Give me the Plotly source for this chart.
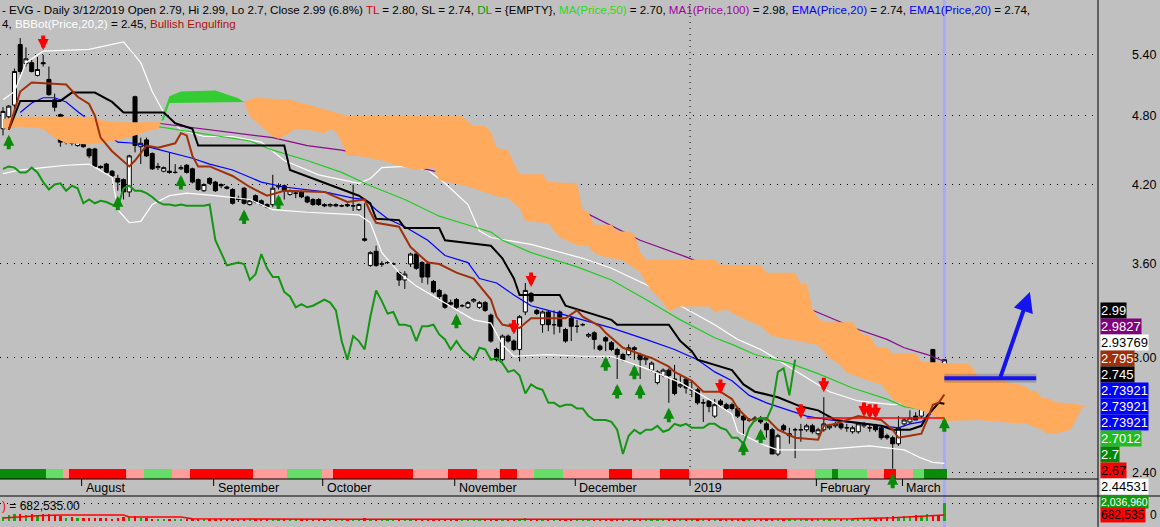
import math
import plotly.graph_objects as go

# ---------------- data ----------------
bars = list(range(165))
opens = [4.68,4.79,4.90,5.51,5.31,5.32,5.19,5.32,5.15,4.95,
 4.81,4.56,4.68,4.53,4.55,4.50,4.50,4.35,4.37,4.31,
 4.25,4.24,4.14,4.98,4.52,4.58,4.46,4.34,4.31,4.31,
 4.30,4.33,4.36,4.33,4.24,4.15,4.25,4.22,4.20,4.18,
 4.16,4.09,4.17,4.04,4.11,4.07,4.04,4.04,4.18,4.19,
 4.12,4.13,4.14,4.10,4.08,4.08,4.04,4.03,4.04,4.03,
 4.04,4.03,4.00,3.78,3.59,3.69,3.60,3.61,3.60,3.54,
 3.49,3.60,3.67,3.61,3.60,3.48,3.42,3.39,3.34,3.36,
 3.32,3.31,3.35,3.31,3.34,3.26,3.05,2.99,3.13,3.10,
 3.05,3.28,3.40,3.29,3.20,3.28,3.20,3.28,3.17,3.24,
 3.19,3.20,3.13,3.15,3.07,3.12,3.09,3.05,3.02,3.02,
 3.06,3.02,2.99,2.93,2.86,2.90,2.93,2.88,2.84,2.88,
 2.82,2.82,2.75,2.76,2.68,2.76,2.74,2.74,2.72,2.68,
 2.66,2.67,2.67,2.64,2.61,2.49,2.63,2.58,2.61,2.61,
 2.61,2.63,2.59,2.61,2.62,2.63,2.64,2.62,2.60,2.60,
 2.63,2.62,2.63,2.62,2.58,2.57,2.54,2.64,2.65,2.68,
 2.68,2.80,3.05,2.90,2.79]
highs = [4.88,4.90,5.26,5.58,5.48,5.35,5.38,5.40,5.28,5.01,
 4.82,4.78,4.78,4.58,4.56,4.51,4.51,4.36,4.38,4.32,
 4.28,4.25,4.45,4.99,4.60,4.60,4.47,4.38,4.35,4.47,
 4.37,4.36,4.37,4.34,4.25,4.21,4.26,4.23,4.21,4.19,
 4.17,4.11,4.18,4.08,4.12,4.08,4.05,4.28,4.21,4.20,
 4.16,4.14,4.15,4.11,4.09,4.09,4.05,4.05,4.05,4.04,
 4.05,4.20,4.05,4.05,3.69,3.73,3.62,3.62,3.61,3.55,
 3.55,3.68,3.68,3.62,3.62,3.49,3.43,3.40,3.36,3.37,
 3.33,3.35,3.37,3.35,3.35,3.27,3.06,3.14,3.14,3.11,
 3.26,3.47,3.41,3.30,3.29,3.29,3.29,3.29,3.18,3.25,
 3.23,3.21,3.15,3.16,3.08,3.13,3.10,3.06,3.03,3.08,
 3.07,3.03,3.01,2.98,2.93,2.94,2.94,2.96,2.90,2.89,
 2.87,2.83,2.77,2.77,2.77,2.77,2.75,2.75,2.73,2.69,
 2.67,2.68,2.68,2.65,2.62,2.59,2.64,2.62,2.62,2.64,
 2.64,2.64,2.62,2.78,2.64,2.65,2.65,2.64,2.63,2.65,
 2.65,2.64,2.64,2.63,2.59,2.58,2.68,2.67,2.71,2.70,
 2.74,2.92,3.05,2.91,2.99]
lows = [4.62,4.67,4.85,5.20,5.28,5.22,5.18,5.28,4.99,4.84,
 4.52,4.54,4.53,4.52,4.51,4.42,4.34,4.33,4.29,4.26,
 4.15,4.08,4.10,4.47,4.37,4.43,4.32,4.32,4.30,4.29,
 4.29,4.32,4.29,4.21,4.15,4.14,4.20,4.14,4.17,4.16,
 4.04,4.06,4.04,4.03,4.05,4.03,4.01,4.02,4.16,4.08,
 4.11,4.09,4.09,4.05,4.03,4.03,4.02,4.02,4.02,4.02,
 4.02,3.99,3.99,3.76,3.58,3.58,3.58,3.60,3.59,3.45,
 3.43,3.58,3.56,3.47,3.46,3.40,3.36,3.30,3.31,3.30,
 3.31,3.30,3.34,3.30,3.28,3.09,2.98,2.98,3.09,3.04,
 2.98,3.26,3.34,3.26,3.15,3.16,3.14,3.15,3.09,3.10,
 3.15,3.19,3.12,3.05,3.04,3.04,3.04,2.88,2.98,3.01,
 2.99,2.88,2.96,2.92,2.85,2.89,2.75,2.79,2.83,2.80,
 2.78,2.74,2.65,2.70,2.67,2.73,2.71,2.71,2.67,2.58,
 2.65,2.65,2.64,2.57,2.49,2.48,2.60,2.54,2.47,2.55,
 2.60,2.59,2.58,2.60,2.61,2.62,2.61,2.60,2.59,2.59,
 2.62,2.60,2.60,2.56,2.56,2.42,2.53,2.63,2.64,2.66,
 2.67,2.78,2.86,2.75,2.70]
closes = [4.84,4.89,5.23,5.23,5.36,5.23,5.25,5.31,5.00,4.88,
 4.56,4.68,4.55,4.57,4.52,4.44,4.35,4.34,4.30,4.27,
 4.22,4.14,4.44,4.53,4.55,4.44,4.33,4.35,4.34,4.30,
 4.30,4.34,4.30,4.22,4.16,4.20,4.21,4.15,4.19,4.17,
 4.05,4.08,4.05,4.07,4.06,4.04,4.02,4.17,4.19,4.15,
 4.15,4.13,4.10,4.06,4.04,4.04,4.03,4.04,4.03,4.03,
 4.03,4.03,4.04,3.77,3.68,3.59,3.60,3.61,3.60,3.49,
 3.53,3.67,3.57,3.51,3.51,3.41,3.38,3.31,3.33,3.31,
 3.32,3.34,3.36,3.34,3.29,3.10,2.99,3.13,3.10,3.05,
 3.25,3.42,3.35,3.27,3.28,3.20,3.20,3.19,3.10,3.19,
 3.19,3.20,3.14,3.11,3.05,3.10,3.05,3.02,2.99,3.06,
 3.05,2.99,3.00,2.97,2.92,2.93,2.90,2.80,2.85,2.83,
 2.82,2.75,2.75,2.73,2.74,2.74,2.72,2.72,2.68,2.66,
 2.66,2.66,2.65,2.61,2.49,2.58,2.61,2.59,2.61,2.61,
 2.63,2.60,2.61,2.64,2.63,2.64,2.62,2.62,2.62,2.64,
 2.64,2.62,2.61,2.57,2.57,2.54,2.62,2.66,2.67,2.66,
 2.73,2.92,2.94,2.79,2.99]
volume_k = [420,650,780,820,700,760,690,800,740,650,
 600,380,420,350,300,330,380,290,310,260,
 340,420,450,520,330,300,280,250,230,270,
 240,210,260,230,200,180,210,190,170,160,
 200,150,180,150,170,140,130,260,180,150,
 160,140,150,130,140,150,120,110,130,120,
 140,230,150,320,280,220,160,140,150,210,
 180,230,200,170,190,160,150,170,140,150,
 130,140,120,150,160,260,240,210,170,180,
 230,300,220,160,180,150,140,170,150,160,
 140,130,150,140,120,160,140,190,150,130,
 140,170,120,130,160,140,150,180,140,130,
 150,170,160,140,130,120,150,140,130,170,
 160,140,150,190,240,210,170,160,220,180,
 230,210,200,250,240,260,230,280,250,260,
 280,320,300,340,420,560,480,600,520,680,
 560,820,700,640,2036.96]
vol_ma_bars = [0, 6, 10, 21, 22, 31, 33, 45, 60, 100, 140, 148, 155, 160, 164]
vol_ma_k = [340, 600, 680, 680, 450, 450, 250, 220, 200, 190, 210, 260, 380, 520, 682.535]

# Ichimoku lines (TL = tenkan, SL = kijun), read at sample bars
tl_bars = [1,3,5,11,13,15,16,17,19,22,23,25,27,30,31,32,33,34,36,40,43,46,49,56,60,63,64,65,69,71,74,76,79,82,85,86,87,90,91,92,98,100,101,104,105,108,112,113,116,117,120,122,125,127,128,130,133,135,138,142,143,145,149,153,155,156,158,160,161,162,163,164]
tl_vals = [4.67,5.03,5.12,5.10,4.98,4.91,4.80,4.60,4.48,4.35,4.40,4.53,4.51,4.55,4.64,4.62,4.44,4.35,4.35,4.27,4.18,4.11,4.15,4.14,4.06,4.08,3.98,3.90,3.87,3.72,3.61,3.60,3.54,3.50,3.36,3.25,3.20,3.18,3.21,3.24,3.24,3.29,3.25,3.19,3.15,3.06,3.01,3.00,2.95,2.92,2.87,2.81,2.81,2.77,2.72,2.66,2.67,2.61,2.57,2.56,2.63,2.64,2.68,2.66,2.61,2.57,2.58,2.59,2.66,2.74,2.75,2.795]
sl_bars = [1,3,10,12,16,19,21,28,30,33,34,49,50,55,62,64,65,69,70,76,77,85,87,89,90,97,98,106,107,116,118,120,121,127,129,131,135,139,142,145,148,153,155,158,160,161,163,164]
sl_vals = [4.67,4.94,4.94,5.02,5.02,4.93,4.83,4.83,4.73,4.68,4.53,4.53,4.32,4.23,4.11,4.05,3.93,3.92,3.86,3.86,3.77,3.73,3.64,3.50,3.39,3.39,3.32,3.23,3.20,3.20,3.10,3.04,2.99,2.93,2.85,2.81,2.78,2.73,2.71,2.66,2.65,2.63,2.61,2.61,2.63,2.68,2.75,2.745]
chikou_shift = 26

ema_bars = [3,5,7,9,11,13,20,23,26,30,33,36,40,43,45,49,56,61,63,65,67,70,74,77,81,83,86,89,92,95,101,106,112,117,121,124,127,130,133,137,140,144,147,151,156,158,160,162,164]
ema_vals = [4.83,4.92,4.97,4.97,4.93,4.84,4.56,4.55,4.51,4.46,4.42,4.37,4.32,4.26,4.22,4.18,4.14,4.09,4.08,4.00,3.93,3.87,3.77,3.66,3.61,3.50,3.47,3.39,3.32,3.29,3.23,3.18,3.11,3.05,2.99,2.92,2.87,2.79,2.75,2.71,2.68,2.66,2.65,2.64,2.62,2.64,2.65,2.70,2.74]
ma50_bars = [27,43,47,53,59,64,70,76,82,85,87,92,100,106,112,118,124,127,131,137,142,148,154,157,161,164]
ma50_vals = [4.70,4.57,4.49,4.40,4.30,4.19,4.08,3.95,3.87,3.83,3.77,3.68,3.58,3.49,3.36,3.23,3.12,3.08,3.02,2.97,2.91,2.83,2.77,2.73,2.71,2.70]
ma100_bars = [27,43,47,53,59,78,94,100,105,111,119,149,154,157,161,164]
ma100_vals = [4.73,4.63,4.60,4.53,4.49,4.28,4.10,4.01,3.90,3.77,3.65,3.17,3.11,3.06,3.02,2.98]
bbtop_bars = [0,2,4,7,15,21,24,26,28,31,35,40,43,45,49,55,62,64,66,70,74,77,81,83,85,92,101,106,112,118,124,128,132,139,144,149,155,158,161,162,164]
bbtop_vals = [4.95,5.03,5.32,5.44,5.46,5.54,5.32,5.03,4.83,4.67,4.61,4.61,4.58,4.56,4.40,4.28,4.21,4.25,4.34,4.35,4.32,4.21,4.04,3.84,3.79,3.74,3.64,3.57,3.46,3.32,3.20,3.11,3.05,2.91,2.81,2.76,2.74,2.75,2.79,2.87,2.94]
bbbot_bars = [0,3,7,11,15,19,20,22,24,26,29,32,37,43,47,53,62,64,66,69,72,76,82,85,87,89,95,101,106,112,118,124,127,128,132,135,142,151,157,160,162,164]
bbbot_vals = [4.29,4.32,4.34,4.36,4.37,4.26,4.00,3.90,3.91,4.04,4.11,4.13,4.11,4.08,4.00,3.98,3.96,3.90,3.68,3.54,3.45,3.36,3.23,3.21,3.08,3.01,3.02,3.01,3.01,2.94,2.86,2.75,2.69,2.60,2.54,2.51,2.51,2.53,2.51,2.47,2.45,2.445]

# Ichimoku cloud edges (already shifted forward 26 bars)
cloud1_bars = [0,3,7,9,11,15,18,20,23,26,27,27.6]
cloud1_top = [4.77,4.79,4.79,4.79,4.79,4.79,4.75,4.74,4.74,4.74,4.74,4.75]
cloud1_bot = [4.68,4.70,4.68,4.60,4.55,4.54,4.56,4.58,4.62,4.67,4.67,4.75]
cloudg_top_bars = [27.6,28,29,31,37,39,41,42]
cloudg_top = [4.75,4.83,4.985,5.03,5.04,5.00,4.965,4.93]
cloudg_bot_bars = [27.6,28,29,42]
cloudg_bot = [4.75,4.76,4.92,4.93]
cloud2_top_bars = [42,44,50,52,55,60,77,80,81,82,84,85,86,88,89,90,94,95,100,101,102,103,106,107,109,110,111,112,124,125,132,133,138,139,140,141,142,143,148,149,150,151,152,153,154,155,159,160,161,163,164,168,169,170,174,175,177,178,179,180,181,182,183,184,187,188,189]
cloud2_top = [4.93,4.97,4.95,4.92,4.87,4.80,4.795,4.795,4.745,4.705,4.705,4.645,4.51,4.49,4.375,4.285,4.285,4.22,4.21,4.00,3.98,3.885,3.885,3.835,3.835,3.81,3.685,3.63,3.63,3.595,3.59,3.54,3.54,3.465,3.465,3.305,3.24,3.215,3.215,3.165,3.135,3.135,3.07,3.06,3.06,3.025,3.025,2.98,2.975,2.975,2.97,2.97,2.94,2.885,2.88,2.86,2.85,2.84,2.815,2.815,2.775,2.775,2.76,2.75,2.745,2.735,2.735]
cloud2_bot_bars = [42,43,44,45,47,48,49,51,53,56,57,58,59,60,62,66,69,72,75,76,81,86,88,90,91,95,96,97,100,102,103,105,108,111,112,113,115,116,118,123,124,126,128,130,132,134,137,140,142,143,144,146,147,150,153,155,157,160,162,164,170,176,178,181,182,184,186,188,189]
cloud2_bot = [4.93,4.795,4.75,4.705,4.61,4.59,4.615,4.68,4.67,4.64,4.675,4.655,4.56,4.44,4.44,4.40,4.355,4.32,4.34,4.235,4.185,4.105,4.09,4.015,3.915,3.895,3.84,3.79,3.735,3.73,3.675,3.65,3.625,3.545,3.47,3.42,3.34,3.285,3.315,3.315,3.28,3.295,3.255,3.22,3.19,3.13,3.11,3.09,3.075,3.035,3.00,2.955,2.915,2.88,2.85,2.77,2.735,2.71,2.685,2.655,2.66,2.645,2.645,2.61,2.59,2.595,2.61,2.725,2.735]

ribbon_runs = [("DG",8),("LG",3),("PK",1),("RD",10),("PK",3),("LG",5),("PK",3),("RD",11),("PK",6),("LG",6),
 ("PK",2),("RD",14),("PK",6),("RD",5),("PK",4),("RD",3),("PK",3),("LG",5),("PK",8),("RD",4),("PK",5),("RD",5),
 ("PK",6),("RD",11),("PK",5),("LG",3),("DG",1),("LG",5),("PK",3),("RD",2),("PK",3),("LG",2),("DG",4)]

month_labels = ["August", "September", "October", "November", "December", "2019", "February", "March"]
month_start_bars = [14, 37, 56, 79, 100, 120, 142, 157]

up_arrow_bars = [1, 20, 31, 42, 48, 79, 105, 107, 110, 111, 116, 129, 132, 155, 164]
down_arrow_bars = [7, 89, 92, 125, 139, 143, 150, 151, 152]

level_line_bars = [140, 164]
level_line_value = 2.67
trend_line_bars = [164, 180]
trend_line_value = 2.884
trend_arrow_tail = (173.7, 2.884)
trend_arrow_head = (178.9, 3.41)

price_ticks = [2.40, 3.00, 3.60, 4.20, 4.80, 5.40]
price_tick_text = ["2.40", "3.00", "3.60", "4.20", "4.80", "5.40"]
right_labels = [("2.99", "#000000", "#ffffff"), ("2.9827", "#800080", "#ffffff"),
                ("2.93769", "#ffffff", "#000000"), ("2.795", "#a0300a", "#ffffff"),
                ("2.745", "#000000", "#ffffff"), ("2.73921", "#0000ff", "#ffffff"),
                ("2.73921", "#0000ff", "#ffffff"), ("2.73921", "#0000ff", "#ffffff"),
                ("2.7012", "#22bb22", "#ffffff"), ("2.7", "#008800", "#ffffff"),
                ("2.67", "#ff0000", "#000000")]
bbbot_label = ("2.44531", "#ffffff", "#000000")
vol_top_label = ("2,036,960", "#119911", "#ffffff")
vol_ma_label = ("682,535", "#ff0000", "#000000")

# ---------------- layout constants ----------------
W, H = 1160, 527
PLOT_RIGHT = 1098
X0_PX, BAR_PX = 3.0, 5.74
PRICE_BOTTOM_PX = 479
RIBBON_TOP_PX = 469
DATE_BOTTOM_PX = 496
VOL_TOP_PX = 497
P_TOP, P_BOT = 6.0079, 2.3722
FONT = "Liberation Sans, Arial, sans-serif"


def py(px):
    return 1 - px / H


def lg(v):
    return math.log10(v)


xr = [-X0_PX / BAR_PX, (PLOT_RIGHT - X0_PX) / BAR_PX]
fig = go.Figure()


def line(xs, ys, color, width, yaxis="y"):
    fig.add_trace(go.Scatter(x=xs, y=ys, mode="lines", line=dict(color=color, width=width),
                             yaxis=yaxis, hoverinfo="skip"))


# moving averages and bands (behind the cloud)
line(bbtop_bars, bbtop_vals, "#ffffff", 1.2)
line(bbbot_bars, bbbot_vals, "#ffffff", 1.2)
line(ma100_bars, ma100_vals, "#8a0a8a", 1.2)
line(ma50_bars, ma50_vals, "#22cc22", 1.2)
line(ema_bars, ema_vals, "#0000ff", 1.2)


def poly(xs_top, top, xs_bot, bot, color):
    fig.add_trace(go.Scatter(x=list(xs_top) + list(xs_bot)[::-1], y=list(top) + list(bot)[::-1],
                             mode="lines", fill="toself", fillcolor=color, line=dict(width=0, color=color),
                             hoverinfo="skip"))


poly(cloud1_bars, cloud1_top, cloud1_bars, cloud1_bot, "#ffaa5c")
poly(cloudg_top_bars, cloudg_top, cloudg_bot_bars, cloudg_bot, "#33cc33")
poly(cloud2_top_bars, cloud2_top, cloud2_bot_bars, cloud2_bot, "#ffaa5c")

# candles
fig.add_trace(go.Candlestick(x=bars, open=opens, high=highs, low=lows, close=closes,
                             increasing=dict(line=dict(color="#000000", width=1), fillcolor="#ffffff"),
                             decreasing=dict(line=dict(color="#000000", width=1), fillcolor="#000000"),
                             whiskerwidth=0, hoverinfo="skip"))

# Ichimoku lines
line(sl_bars, sl_vals, "#000000", 2)
line(tl_bars, tl_vals, "#a0300a", 2)
line(bars[:len(bars) - chikou_shift], closes[chikou_shift:], "#149614", 2)
line(level_line_bars, [level_line_value] * 2, "#ff0000", 1.5)

# hand-drawn trend line with soft shadow
fig.add_trace(go.Scatter(x=trend_line_bars, y=[trend_line_value] * 2, mode="lines",
                         line=dict(color="rgba(60,60,60,0.25)", width=9), hoverinfo="skip"))
line(trend_line_bars, [trend_line_value] * 2, "#1414f0", 4)

# ribbon
ribbon_colors = {"DG": "#0a8c0a", "LG": "#66dd66", "PK": "#ff9c9c", "RD": "#ff0000"}
rib_cols = []
for code, n in ribbon_runs:
    rib_cols += [ribbon_colors[code]] * n
fig.add_trace(go.Bar(x=bars, y=[1] * len(bars), marker=dict(color=rib_cols, line=dict(width=0)),
                     width=1.0, yaxis="y3", hoverinfo="skip"))

# volume
vol_cols = ["#11aa11" if c >= o else "#ff0000" for o, c in zip(opens, closes)]
fig.add_trace(go.Bar(x=bars, y=[v * 1000 for v in volume_k], marker=dict(color=vol_cols, line=dict(width=0)),
                     width=0.4, yaxis="y4", hoverinfo="skip"))
fig.add_trace(go.Scatter(x=vol_ma_bars, y=[v * 1000 for v in vol_ma_k], mode="lines",
                         line=dict(color="#ff0000", width=1.5), yaxis="y4", hoverinfo="skip"))

annotations = []
shapes = []

# signal arrows
for b in up_arrow_bars:
    annotations.append(dict(x=b, y=lg(lows[b]), xref="x", yref="y", text="", showarrow=True,
                            ax=0, ay=21, arrowhead=2, arrowsize=0.55, arrowwidth=4,
                            arrowcolor="#0a8a0a", standoff=5))
for b in down_arrow_bars:
    annotations.append(dict(x=b, y=lg(highs[b]), xref="x", yref="y", text="", showarrow=True,
                            ax=0, ay=-21, arrowhead=2, arrowsize=0.55, arrowwidth=4,
                            arrowcolor="#ff0000", standoff=5))
# trend arrow
annotations.append(dict(x=trend_arrow_head[0], y=lg(trend_arrow_head[1]), xref="x", yref="y",
                        ax=trend_arrow_tail[0], ay=lg(trend_arrow_tail[1]), axref="x", ayref="y",
                        text="", showarrow=True, arrowhead=2, arrowsize=1, arrowwidth=4,
                        arrowcolor="#1414f0", standoff=0))

# titles
line1 = ("- EVG - Daily 3/12/2019 Open 2.79, Hi 2.99, Lo 2.7, Close 2.99 (6.8%) "
         "<span style='color:#e00000'>TL</span> = 2.80, SL = 2.74, "
         "<span style='color:#00a000'>DL</span> = {EMPTY}, "
         "<span style='color:#22dd22'>MA(Price,50)</span> = 2.70, "
         "<span style='color:#a000a0'>MA1(Price,100)</span> = 2.98, "
         "<span style='color:#0000ff'>EMA(Price,20)</span> = 2.74, "
         "<span style='color:#0000ff'>EMA1(Price,20)</span> = 2.74,")
line2 = ("4, <span style='color:#ffffff'>BBBot(Price,20,2)</span> = 2.45, "
         "<span style='color:#b01010'>Bullish Engulfing</span>")
for txt, ypx in [(line1, 9), (line2, 24)]:
    annotations.append(dict(x=0, y=py(ypx), xref="paper", yref="paper", text=txt, showarrow=False,
                            xanchor="left", yanchor="middle", font=dict(family=FONT, size=11.6, color="#000000")))
annotations.append(dict(x=0, y=py(506), xref="paper", yref="paper",
                        text="<span style='color:#ff0000'>)</span> = 682,535.00", showarrow=False,
                        xanchor="left", yanchor="middle", font=dict(family=FONT, size=12, color="#000000")))

# date labels and ticks
for lab, b in zip(month_labels, month_start_bars):
    annotations.append(dict(x=b - 0.3, y=py(488), xref="x", yref="paper", text=lab, showarrow=False,
                            xanchor="left", yanchor="middle", xshift=2,
                            font=dict(family=FONT, size=12.5, color="#000000")))
    shapes.append(dict(type="line", xref="x", yref="paper", x0=b - 0.3, x1=b - 0.3,
                       y0=py(PRICE_BOTTOM_PX), y1=py(486), line=dict(color="#000000", width=1)))

# price axis labels
for v, t in zip(price_ticks, price_tick_text):
    annotations.append(dict(x=1158 / W, y=lg(v), xref="paper", yref="y", text=t, showarrow=False,
                            xanchor="right", yanchor="middle", font=dict(family=FONT, size=12.5, color="#000000")))


def box(label, ypx, size=13):
    txt, bg, fg = label
    annotations.append(dict(x=1100 / W, y=py(ypx), xref="paper", yref="paper", text=txt, showarrow=False,
                            xanchor="left", yanchor="middle", bgcolor=bg, borderpad=0,
                            font=dict(family=FONT, size=size, color=fg)))


for k, lab in enumerate(right_labels):
    box(lab, 310.5 + 16 * k)
annotations.append(dict(x=1159 / W, y=py(515), xref="paper", yref="paper", text="0", showarrow=False,
                        xanchor="right", yanchor="middle", font=dict(family=FONT, size=12, color="#000000")))
box(bbbot_label, 486.5)
box(vol_top_label, 502, size=10.5)
box(vol_ma_label, 515, size=12)

# frame lines
shapes.append(dict(type="line", xref="paper", yref="paper", x0=PLOT_RIGHT / W, x1=PLOT_RIGHT / W, y0=0, y1=1,
                   line=dict(color="#000000", width=1)))
shapes.append(dict(type="line", xref="paper", yref="paper", x0=0, x1=PLOT_RIGHT / W,
                   y0=py(PRICE_BOTTOM_PX), y1=py(PRICE_BOTTOM_PX), line=dict(color="#000000", width=1)))
shapes.append(dict(type="line", xref="paper", yref="paper", x0=0, x1=1,
                   y0=py(DATE_BOTTOM_PX), y1=py(DATE_BOTTOM_PX), line=dict(color="#000000", width=1)))
# year separator and selected-bar marker
shapes.append(dict(type="line", xref="x", yref="paper", x0=month_start_bars[5] - 0.3, x1=month_start_bars[5] - 0.3,
                   y0=py(PRICE_BOTTOM_PX), y1=1, line=dict(color="#000000", width=1, dash="1px,5px"), layer="below"))
shapes.append(dict(type="line", xref="x", yref="paper", x0=bars[-1], x1=bars[-1], y0=0, y1=1,
                   line=dict(color="#a8a8ff", width=3), layer="below"))

fig.update_layout(
    width=W, height=H, margin=dict(l=0, r=0, t=0, b=0),
    paper_bgcolor="#c0c0c0", plot_bgcolor="rgba(0,0,0,0)", showlegend=False,
    bargap=0, boxgap=0.3, boxgroupgap=0, hovermode=False,
    xaxis=dict(domain=[0, PLOT_RIGHT / W], range=xr, showticklabels=False, showgrid=False,
               zeroline=False, rangeslider=dict(visible=False), fixedrange=True),
    yaxis=dict(domain=[py(PRICE_BOTTOM_PX), 1], type="log", range=[lg(P_BOT), lg(P_TOP)],
               tickvals=price_ticks, showticklabels=False, showgrid=True, gridcolor="#000000",
               griddash="1px,6px", gridwidth=1, zeroline=False, fixedrange=True),
    yaxis3=dict(domain=[py(PRICE_BOTTOM_PX), py(RIBBON_TOP_PX)], range=[0, 1], anchor="x",
                showticklabels=False, showgrid=False, zeroline=False, fixedrange=True),
    yaxis4=dict(domain=[0, py(VOL_TOP_PX)], range=[-679e3, 2716e3], anchor="x",
                tickvals=[2036960], showticklabels=False, showgrid=True, gridcolor="#000000",
                griddash="1px,6px", zeroline=False, fixedrange=True),
    annotations=annotations, shapes=shapes,
)

fig.write_html("out.html", config={"displayModeBar": False},
               post_script="document.body.style.margin='0';document.body.style.overflow='hidden';")
